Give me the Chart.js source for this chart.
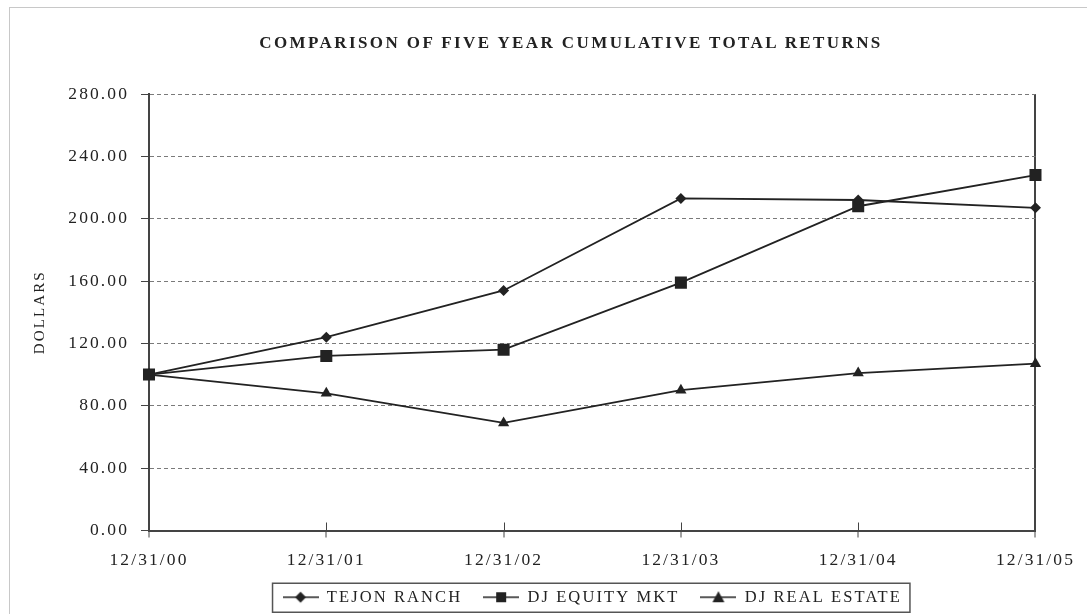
<!DOCTYPE html>
<html>
<head>
<meta charset="utf-8">
<script src="https://cdn.jsdelivr.net/npm/chart.js@4.4.1/dist/chart.umd.min.js"></script>
<style>
  html, body { margin: 0; padding: 0; background: #fff; }
  #wrap { position: relative; width: 1087px; height: 614px; overflow: hidden; }
  #frame { position: absolute; left: 9px; top: 7px; right: -5px; bottom: -5px;
           border-left: 1px solid #c8c8c8; border-top: 1px solid #c8c8c8; }
  #chart { position: absolute; left: 0; top: 0; }
  #title { position: absolute; left: 0; top: 33px; width: 1142px; text-align: center;
           font: bold 17px 'Liberation Serif', 'Times New Roman', serif; line-height: 20px;
           letter-spacing: 2.4px; color: #222; white-space: nowrap; }
</style>
</head>
<body>
<div id="wrap">
  <div id="frame"></div>
  <canvas id="chart" width="1087" height="614"></canvas>
  <div id="title">COMPARISON OF FIVE YEAR CUMULATIVE TOTAL RETURNS</div>
</div>
<script>
// chart data
const dates = ['12/31/00', '12/31/01', '12/31/02', '12/31/03', '12/31/04', '12/31/05'];
const tejonRanch = [100, 124, 154, 213, 212, 207];
const djEquityMkt = [100, 112, 116, 159, 208, 228];
const djRealEstate = [100, 88, 69, 90, 101, 107];
const seriesNames = ['TEJON RANCH', 'DJ EQUITY MKT', 'DJ REAL ESTATE'];
const yTicks = [0, 40, 80, 120, 160, 200, 240, 280];

const INK = '#222';
const SERIF = "'Liberation Serif', 'Times New Roman', serif";

// small line+marker pictures for the legend
function legendIcon(shape) {
    const c = document.createElement('canvas');
    c.width = 36; c.height = 14;
    const g = c.getContext('2d');
    g.strokeStyle = INK; g.fillStyle = INK; g.lineWidth = 1.5;
    g.beginPath(); g.moveTo(0, 7); g.lineTo(36, 7); g.stroke();
    g.beginPath();
    if (shape === 'diamond') {
        g.moveTo(18, 1.5); g.lineTo(23.5, 7); g.lineTo(18, 12.5); g.lineTo(12.5, 7);
    } else if (shape === 'square') {
        g.rect(13, 2, 10, 10);
    } else {
        g.moveTo(18, 1); g.lineTo(24, 12); g.lineTo(12, 12);
    }
    g.closePath(); g.fill();
    return c;
}
const legendIcons = [legendIcon('diamond'), legendIcon('square'), legendIcon('triangle')];

// letter spacing on the canvas text
const spacing = {
    id: 'spacing',
    beforeLayout(chart) { chart.ctx.letterSpacing = '2.1px'; },
    beforeDraw(chart) { chart.ctx.letterSpacing = '2.1px'; }
};

// ticks crossing the x axis + box round the legend
const extras = {
    id: 'extras',
    afterDraw(chart) {
        const ctx = chart.ctx;
        const x = chart.scales.x;
        const bottom = chart.chartArea.bottom;
        ctx.save();
        ctx.strokeStyle = '#444';
        ctx.lineWidth = 1;
        for (let i = 1; i < dates.length - 1; i++) {
            const px = Math.round(x.getPixelForTick(i)) + 0.5;
            ctx.beginPath(); ctx.moveTo(px, bottom - 8); ctx.lineTo(px, bottom); ctx.stroke();
        }
        const boxes = chart.legend.legendHitBoxes;
        if (boxes && boxes.length) {
            const first = boxes[0], last = boxes[boxes.length - 1];
            const left = first.left - 10, right = last.left + last.width + 8;
            const cy = first.top + first.height / 2;
            ctx.strokeStyle = '#555';
            ctx.lineWidth = 1.5;
            ctx.strokeRect(left, cy - 14, right - left, 29);
        }
        ctx.restore();
    }
};

const ctx = document.getElementById('chart').getContext('2d');
new Chart(ctx, {
    type: 'line',
    data: {
        labels: dates,
        datasets: [
            { label: seriesNames[0], data: tejonRanch, pointStyle: 'rectRot', pointRadius: 5.5 },
            { label: seriesNames[1], data: djEquityMkt, pointStyle: 'rect', pointRadius: 8.5 },
            { label: seriesNames[2], data: djRealEstate, pointStyle: 'triangle', pointRadius: 6.5 }
        ].map(d => Object.assign(d, {
            borderColor: INK, backgroundColor: INK, borderWidth: 1.8,
            pointBorderWidth: 0, pointBackgroundColor: INK, tension: 0
        }))
    },
    options: {
        responsive: false,
        animation: false,
        layout: { padding: { left: 9, right: 51, top: 94, bottom: -1.5 } },
        plugins: {
            tooltip: { enabled: false },
            title: { display: false },
            legend: {
                position: 'bottom',
                fullSize: false,
                labels: {
                    color: INK,
                    font: { family: SERIF, size: 16.5 },
                    usePointStyle: true,
                    pointStyleWidth: 36,
                    padding: 21,
                    generateLabels(chart) {
                        const items = Chart.defaults.plugins.legend.labels.generateLabels(chart);
                        items.forEach((it, i) => { it.pointStyle = legendIcons[i]; });
                        return items;
                    }
                }
            }
        },
        scales: {
            x: {
                afterFit(scale) { scale.height = 37.5; },
                grid: {
                    color: c => c.index === dates.length - 1 ? '#444' : 'rgba(0,0,0,0)',
                    lineWidth: 2,
                    tickColor: '#444',
                    tickWidth: 1,
                    tickLength: 7
                },
                border: { color: '#444', width: 2 },
                ticks: {
                    color: INK,
                    font: { family: SERIF, size: 17.5 },
                    padding: 12,
                    autoSkip: false,
                    maxRotation: 0
                }
            },
            y: {
                min: 0,
                max: 280,
                afterFit(scale) { scale.width = 140; },
                afterBuildTicks(scale) { scale.ticks = yTicks.map(v => ({ value: v })); },
                grid: {
                    color: '#7a7a7a',
                    lineWidth: 1,
                    tickColor: '#444',
                    tickLength: 8,
                    tickBorderDash: []
                },
                border: { color: '#444', width: 2, dash: [4, 3] },
                ticks: {
                    color: INK,
                    font: { family: SERIF, size: 17.5 },
                    padding: 12,
                    callback: v => v.toFixed(2)
                },
                title: {
                    display: true,
                    text: 'DOLLARS',
                    color: INK,
                    font: { family: SERIF, size: 15 },
                    padding: { top: 22, bottom: 0 }
                }
            }
        }
    },
    plugins: [spacing, extras]
});
</script>
</body>
</html>
